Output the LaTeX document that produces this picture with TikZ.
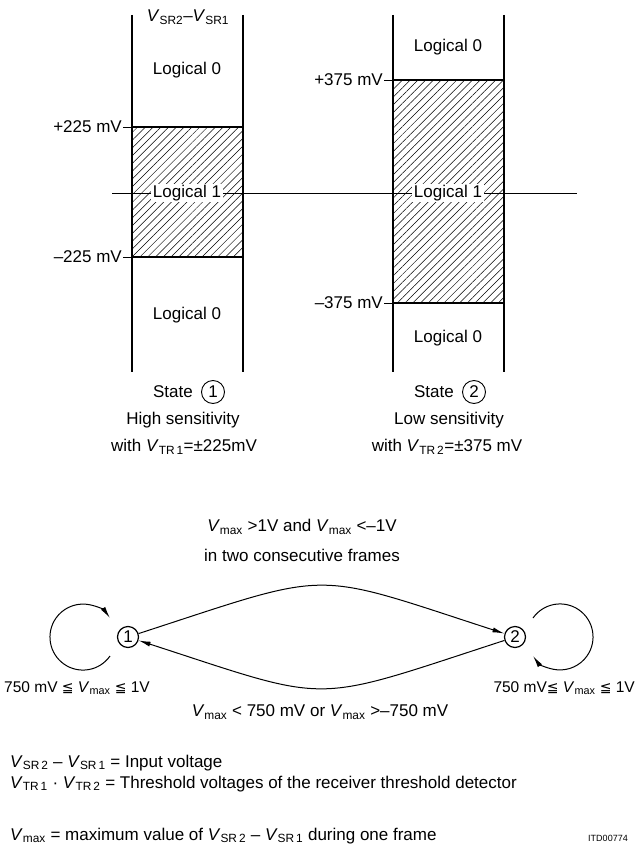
\documentclass[tikz,border=0pt]{standalone}
\usepackage{fontspec}
\setmainfont{Liberation Sans}
\newfontfamily\symf{DejaVu Sans}
\usetikzlibrary{patterns.meta,arrows.meta}
\newcommand\Vs[1]{\textit{V}\textsubscript{#1}}
\newcommand\myleq{{\symf\fontsize{14}{14}\selectfont ≦}}
\begin{document}
\begin{tikzpicture}[x=1pt,y=-1pt,
  font=\fontsize{17}{20}\selectfont,
  col/.style={line width=1.4pt},
  lvl/.style={line width=1.1pt},
  hatch/.style={pattern={Lines[angle=45,distance=5.5pt,line width=0.5pt]}},
  lbl/.style={inner sep=1pt},
  onefill/.style={fill=white,inner sep=1.5pt},
  snode/.style={circle,draw,line width=1.2pt,minimum size=21pt,inner sep=0pt},
  scirc/.style={circle,draw,line width=0.9pt,minimum size=23pt,inner sep=0pt},
  arr/.style={line width=1pt,-{Latex[length=12pt,width=5pt]}},
  selflbl/.style={inner sep=1pt,font=\fontsize{15.5}{18}\selectfont},
  legend/.style={anchor=west,inner sep=0pt,font=\fontsize{17}{20}\selectfont}]
\useasboundingbox (0,0) rectangle (639,848);

% ---- left column (state 1)
\fill[hatch] (132,127) rectangle (243,257);
\draw[col] (132,15) -- (132,372);
\draw[col] (243,15) -- (243,372);
\draw[lvl] (132,127) -- (243,127);
\draw[lvl] (132,257) -- (243,257);
% ---- right column (state 2)
\fill[hatch] (393,80) rectangle (504,303);
\draw[col] (393,15) -- (393,372);
\draw[col] (504,15) -- (504,372);
\draw[lvl] (393,80) -- (504,80);
\draw[lvl] (393,303) -- (504,303);
% ---- zero line
\draw[line width=0.9pt] (112,193) -- (577,193);

\node[lbl] (vin) at (188,17) {\Vs{SR2}–\Vs{SR1}};
\node[lbl] (l0a) at (187,70) {Logical 0};
\node[lbl] (l0b) at (187,315) {Logical 0};
\node[onefill] (l1a) at (187,193) {Logical 1};
\node[lbl] (l0c) at (448,47) {Logical 0};
\node[lbl] (l0d) at (448,338) {Logical 0};
\node[onefill] (l1b) at (448,193) {Logical 1};

\node[lbl,anchor=east] (p225) at (123,127) {+225 mV};
\node[lbl,anchor=east] (m225) at (123,257) {–225 mV};
\node[lbl,anchor=east] (p375) at (384,80) {+375 mV};
\node[lbl,anchor=east] (m375) at (384,303) {–375 mV};
\draw[line width=0.9pt] (p225.east) -- (132,127);
\draw[line width=0.9pt] (m225.east) -- (132,257);
\draw[line width=0.9pt] (p375.east) -- (393,80);
\draw[line width=0.9pt] (m375.east) -- (393,303);

% ---- state captions
\node[lbl,anchor=east] (st1) at (194,392) {State};
\node[scirc] (c1) at (213,392) {1};
\node[lbl] (hs) at (183,420) {High sensitivity};
\node[lbl] (w1) at (184,447) {with \Vs{TR\,1}=±225mV};
\node[lbl,anchor=east] (st2) at (455,392) {State};
\node[scirc] (c2) at (474,392) {2};
\node[lbl] (ls) at (449,420) {Low sensitivity};
\node[lbl] (w2) at (447,447) {with \Vs{TR\,2}=±375 mV};

% ---- state diagram
\node[lbl] (t12a) at (302,527) {\Vs{max} >1V and \Vs{max} <–1V};
\node[lbl] (t12b) at (302,555) {in two consecutive frames};
\node[snode] (n1) at (128,637) {1};
\node[snode] (n2) at (515,637) {2};
\draw[arr] (n1) to[out=18,in=162,looseness=1.45] (n2);
\draw[arr] (n2) to[out=198,in=-18,looseness=1.45] (n1);
\draw[arr] ([shift={(-18,19)}]n1.center) arc[start angle=35,end angle=325,radius=33];
\draw[arr] ([shift={(18,-19)}]n2.center) arc[start angle=215,end angle=505,radius=33];
\node[selflbl] (self1) at (77,688) {750 mV \myleq\ \Vs{max} \myleq\ 1V};
\node[selflbl,anchor=east] (self2) at (636,688) {750 mV\myleq\ \Vs{max} \myleq\ 1V};
\node[lbl] (t21) at (320,712) {\Vs{max} < 750 mV or \Vs{max} >–750 mV};

% ---- legend
\node[legend] (lg1) at (10,763) {\Vs{SR\,2} – \Vs{SR\,1} = Input voltage};
\node[legend] (lg2) at (10,784) {\Vs{TR\,1} · \Vs{TR\,2} = Threshold voltages of the receiver threshold detector};
\node[legend] (lg3) at (10,836) {\Vs{max} = maximum value of \Vs{SR\,2} – \Vs{SR\,1} during one frame};
\node[inner sep=0pt,font=\fontsize{9}{10}\selectfont] (itd) at (608,838) {ITD00774};
\end{tikzpicture}
\end{document}
